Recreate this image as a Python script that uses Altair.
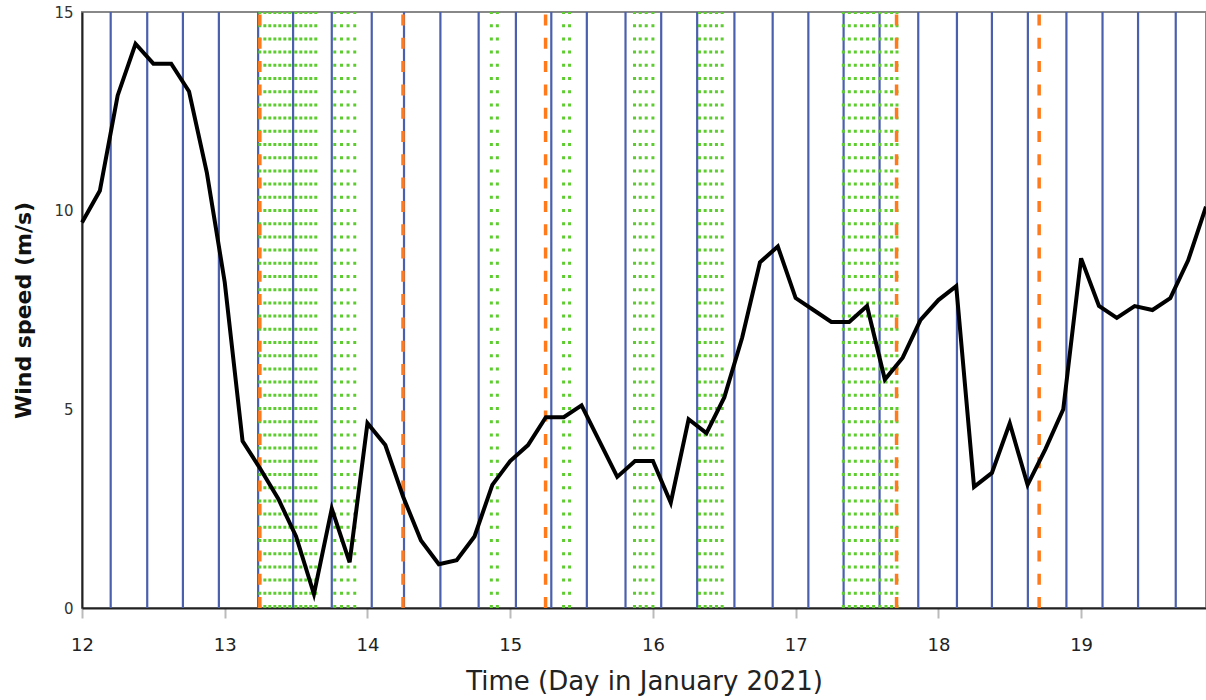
import altair as alt
import pandas as pd

# Wind speed series (day in January 2021, m/s)
times = [12.000, 12.125, 12.250, 12.375, 12.500, 12.625, 12.750, 12.875,
         13.000, 13.125, 13.250, 13.375, 13.500, 13.625, 13.750, 13.875,
         14.000, 14.125, 14.250, 14.375, 14.500, 14.625, 14.750, 14.875,
         15.000, 15.125, 15.250, 15.375, 15.500, 15.625, 15.750, 15.875,
         16.000, 16.125, 16.250, 16.375, 16.500, 16.625, 16.750, 16.875,
         17.000, 17.125, 17.250, 17.375, 17.500, 17.625, 17.750, 17.875,
         18.000, 18.125, 18.250, 18.375, 18.500, 18.625, 18.750, 18.875,
         19.000, 19.125, 19.250, 19.375, 19.500, 19.625, 19.750, 19.875]
speeds = [9.7, 10.5, 12.9, 14.2, 13.7, 13.7, 13.0, 10.95,
          8.2, 4.2, 3.5, 2.75, 1.8, 0.35, 2.5, 1.15,
          4.65, 4.1, 2.8, 1.7, 1.1, 1.2, 1.8, 3.1,
          3.7, 4.1, 4.8, 4.8, 5.1, 4.2, 3.3, 3.7,
          3.7, 2.65, 4.75, 4.4, 5.3, 6.8, 8.7, 9.1,
          7.8, 7.5, 7.2, 7.2, 7.6, 5.75, 6.3, 7.25,
          7.75, 8.1, 3.05, 3.4, 4.65, 3.1, 4.0, 5.0,
          8.8, 7.6, 7.3, 7.6, 7.5, 7.8, 8.75, 10.1]

# Blue solid vertical markers
blue_days = [12.201, 12.457, 12.707, 12.959, 13.234, 13.479, 13.750, 14.030,
             14.256, 14.511, 14.779, 15.040, 15.288, 15.537, 15.808, 16.058,
             16.310, 16.571, 16.839, 17.089, 17.336, 17.588, 17.859, 18.130,
             18.375, 18.627, 18.897, 19.150, 19.399, 19.663]

# Orange dashed vertical markers
orange_days = [13.246, 14.249, 15.248, 17.707, 18.706]

# Green dotted vertical markers
green_days = [13.246, 13.281, 13.316, 13.351, 13.386, 13.421, 13.456, 13.498,
              13.533, 13.568, 13.603, 13.638,
              13.771, 13.818, 13.864, 13.911,
              14.868, 14.910,
              15.374, 15.416,
              15.871, 15.911, 15.953, 16.000,
              16.326, 16.366, 16.405, 16.445, 16.485,
              17.334, 17.376, 17.418, 17.462, 17.504, 17.546, 17.591, 17.633,
              17.672, 17.710]

x_ticks = [12, 13, 14, 15, 16, 17, 18, 19]
y_ticks = [0, 5, 10, 15]

FONT = "DejaVu Sans"

xscale = alt.Scale(domain=[12, 19.875], nice=False, zero=False)
yscale = alt.Scale(domain=[0, 15], nice=False)

line_df = pd.DataFrame({"t": times, "v": speeds})
blue_df = pd.DataFrame({"t": blue_days})
orange_df = pd.DataFrame({"t": orange_days})
green_df = pd.DataFrame({"t": green_days})

xaxis = alt.Axis(values=x_ticks, format="d", title="Time (Day in January 2021)")
yaxis = alt.Axis(values=y_ticks, title="Wind speed (m/s)")

blue = alt.Chart(blue_df).mark_rule(color="#4a5fae", strokeWidth=2.2).encode(
    x=alt.X("t:Q", scale=xscale, axis=xaxis),
    y=alt.datum(0, scale=yscale, axis=yaxis),
    y2=alt.datum(15),
)

green = alt.Chart(green_df).mark_rule(color="#5ccc2e", strokeWidth=3,
                                      strokeDash=[3, 10.2]).encode(
    x=alt.X("t:Q", scale=xscale, axis=xaxis),
    y=alt.datum(0, axis=yaxis),
    y2=alt.datum(15),
)

orange = alt.Chart(orange_df).mark_rule(color="#ff7a1a", strokeWidth=3.5,
                                        strokeDash=[11, 12.3]).encode(
    x=alt.X("t:Q", scale=xscale, axis=xaxis),
    y=alt.datum(0, axis=yaxis),
    y2=alt.datum(15),
)

line = alt.Chart(line_df).mark_line(color="#000000", strokeWidth=4,
                                    strokeJoin="miter").encode(
    x=alt.X("t:Q", scale=xscale, axis=xaxis),
    y=alt.Y("v:Q", scale=yscale, axis=yaxis),
)

chart = alt.layer(blue, green, orange, line).properties(
    width=1124, height=596,
    autosize=alt.AutoSizeParams(type="none"),
    padding={"left": 82, "top": 12, "right": 0, "bottom": 92},
    background="white",
).configure_view(
    stroke="#888888", strokeWidth=2
).configure_axisX(
    grid=False, labelFontSize=18, labelFont=FONT, labelColor="#222",
    labelFlush=False, tickSize=10, tickColor="#bbbbbb", tickWidth=2,
    domainColor="#222222", domainWidth=2, labelPadding=18,
    titleFont=FONT, titleFontSize=26, titleFontWeight="normal",
    titleColor="#222", titlePadding=14
).configure_axisY(
    grid=False, labelFontSize=15, labelFont=FONT, labelColor="#333",
    ticks=False, domainColor="#222222", domainWidth=2, labelPadding=9,
    titleFont=FONT, titleFontSize=22, titleFontWeight="bold",
    titleColor="#111", titlePadding=18
)

chart.save("out.html", embed_options={"renderer": "svg", "actions": False})
